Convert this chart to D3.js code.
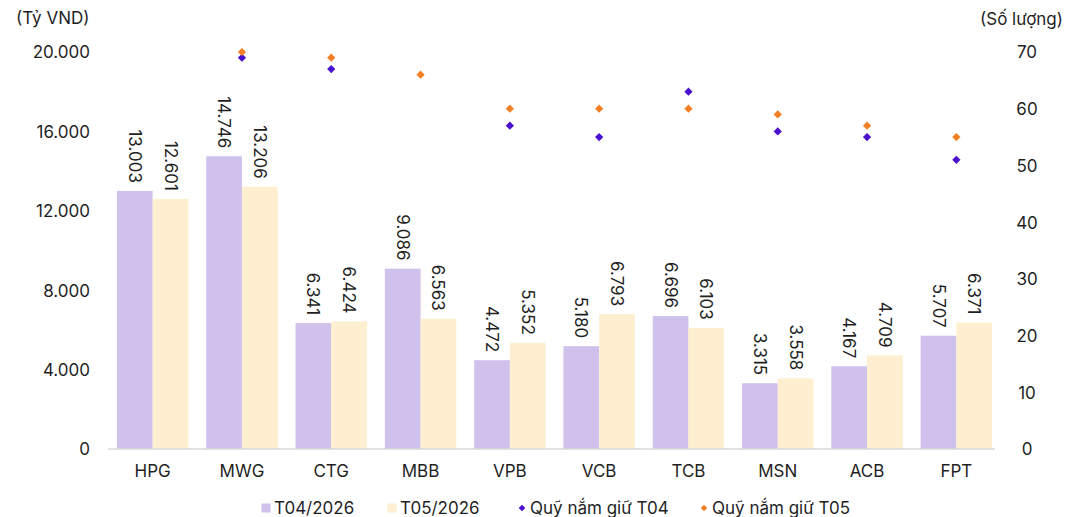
<!DOCTYPE html>
<html>
<head>
<meta charset="utf-8">
<script src="https://cdn.jsdelivr.net/npm/d3@7"></script>
<style>
  body { margin: 0; background: #fff; }
  svg text { font-family: Inter, "Noto Sans", sans-serif; fill: #1f1f1f; }
</style>
</head>
<body>
<div id="chart"></div>
<script>
// chart data
const categories = ["HPG", "MWG", "CTG", "MBB", "VPB", "VCB", "TCB", "MSN", "ACB", "FPT"];
const valueT04 = [13003, 14746, 6341, 9086, 4472, 5180, 6696, 3315, 4167, 5707];
const valueT05 = [12601, 13206, 6424, 6563, 5352, 6793, 6103, 3558, 4709, 6371];
// number of funds holding (null = not shown)
const fundsT04 = [null, 69, 67, null, 57, 55, 63, 56, 55, 51];
const fundsT05 = [null, 70, 69, 66, 60, 60, 60, 59, 57, 55];
const leftTicks = [0, 4000, 8000, 12000, 16000, 20000];
const rightTicks = [0, 10, 20, 30, 40, 50, 60, 70];
const seriesNames = ["T04/2026", "T05/2026", "Quỹ nắm giữ T04", "Quỹ nắm giữ T05"];

const colors = {
    t04: "#d0c0ec",
    t05: "#fdefcf",
    f04: "#4a10cf",
    f05: "#f47f24"
};

const width = 1065, height = 517;
const plot = { left: 108, right: 1001, top: 52, bottom: 449 };

const locale = d3.formatLocale({ decimal: ",", thousands: ".", grouping: [3], currency: ["", ""] });
const fmt = locale.format(",d");

const svg = d3.select("#chart")
    .append("svg")
    .attr("width", width)
    .attr("height", height);

const x = d3.scaleBand()
    .domain(categories)
    .range([plot.left, plot.right])
    .paddingInner(0.2)
    .paddingOuter(0.1);

const x1 = d3.scaleBand()
    .domain(["t04", "t05"])
    .range([0, x.bandwidth()]);

const yLeft = d3.scaleLinear().domain([0, 20000]).range([plot.bottom, plot.top]);
const yRight = d3.scaleLinear().domain([0, 70]).range([plot.bottom, plot.top]);

// axes
const leftAxis = svg.append("g")
    .attr("transform", `translate(${plot.left - 18}, 0)`)
    .call(d3.axisLeft(yLeft).tickValues(leftTicks).tickFormat(fmt).tickSize(0).tickPadding(0));
leftAxis.select(".domain").remove();
leftAxis.selectAll("text").attr("font-size", 17).attr("dy", "0.35em");

const rightAxis = svg.append("g")
    .attr("transform", `translate(1027, 0)`)
    .call(d3.axisRight(yRight).tickValues(rightTicks).tickSize(0).tickPadding(0));
rightAxis.select(".domain").remove();
rightAxis.selectAll("text").attr("font-size", 17).attr("text-anchor", "middle").attr("dy", "0.35em");

svg.append("text").attr("x", 16).attr("y", 24).attr("font-size", 17).text("(Tỷ VND)");
svg.append("text").attr("x", 1063).attr("y", 25).attr("font-size", 17).attr("text-anchor", "end").text("(Số lượng)");

// bars
const rows = categories.map((c, i) => ({ cat: c, t04: valueT04[i], t05: valueT05[i] }));

const groups = svg.append("g")
    .selectAll("g")
    .data(rows)
    .enter()
    .append("g")
    .attr("transform", d => `translate(${x(d.cat)}, 0)`);

["t04", "t05"].forEach(k => {
    groups.append("rect")
        .attr("x", x1(k))
        .attr("y", d => yLeft(d[k]))
        .attr("width", x1.bandwidth())
        .attr("height", d => plot.bottom - yLeft(d[k]))
        .attr("fill", colors[k]);

    groups.append("text")
        .attr("transform", d => `translate(${x1(k) + x1.bandwidth() / 2}, ${yLeft(d[k]) - 8}) rotate(90)`)
        .attr("text-anchor", "end")
        .attr("dy", "0.35em")
        .attr("font-size", 17)
        .text(d => fmt(d[k]));
});

// baseline
svg.append("line")
    .attr("x1", plot.left).attr("x2", 995)
    .attr("y1", plot.bottom).attr("y2", plot.bottom)
    .attr("stroke", "#d9d9d9").attr("stroke-width", 1.3);

// category labels
svg.append("g")
    .selectAll("text")
    .data(categories)
    .enter()
    .append("text")
    .attr("x", d => x(d) + x.bandwidth() / 2)
    .attr("y", 477)
    .attr("text-anchor", "middle")
    .attr("font-size", 17)
    .text(d => d);

// fund count markers
const diamond = d3.symbol().type(d3.symbolSquare).size(34);
const markerSets = [
    { vals: fundsT04, color: colors.f04 },
    { vals: fundsT05, color: colors.f05 }
];
markerSets.forEach(s => {
    svg.append("g")
        .selectAll("path")
        .data(categories.map((c, i) => ({ cat: c, v: s.vals[i] })).filter(d => d.v !== null))
        .enter()
        .append("path")
        .attr("d", diamond)
        .attr("transform", d => `translate(${x(d.cat) + x.bandwidth() / 2}, ${yRight(d.v)}) rotate(45)`)
        .attr("fill", s.color);
});

// legend
const legend = svg.append("g").attr("transform", "translate(0, 508)");
const legendItems = [
    { name: seriesNames[0], color: colors.t04, shape: "square", x: 266 },
    { name: seriesNames[1], color: colors.t05, shape: "square", x: 392 },
    { name: seriesNames[2], color: colors.f04, shape: "diamond", x: 522 },
    { name: seriesNames[3], color: colors.f05, shape: "diamond", x: 704 }
];
legendItems.forEach(it => {
    if (it.shape === "square") {
        legend.append("rect")
            .attr("x", it.x - 4.5).attr("y", -4.5)
            .attr("width", 9).attr("height", 9)
            .attr("fill", it.color);
    } else {
        legend.append("path")
            .attr("d", d3.symbol().type(d3.symbolSquare).size(22)())
            .attr("transform", `translate(${it.x}, 0) rotate(45)`)
            .attr("fill", it.color);
    }
    legend.append("text")
        .attr("x", it.x + 8)
        .attr("dy", "0.35em")
        .attr("font-size", 17)
        .text(it.name);
});
</script>
</body>
</html>
